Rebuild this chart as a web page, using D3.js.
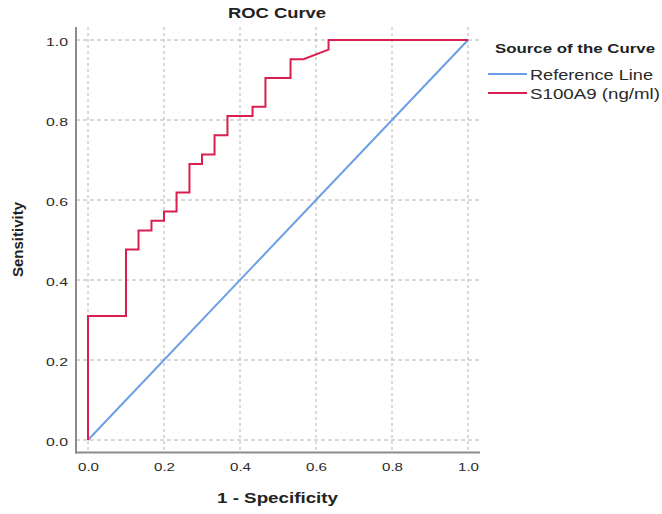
<!DOCTYPE html>
<html>
<head>
<meta charset="utf-8">
<script src="https://cdn.jsdelivr.net/npm/d3@7"></script>
<style>
  body { margin: 0; background: #fff; }
  text { font-family: "Liberation Sans", Arial, sans-serif; }
</style>
</head>
<body>
<div id="chart"></div>
<script>
// ROC points
const fpr = [0, 0, 0.1, 0.1, 0.133, 0.133, 0.167, 0.167, 0.2, 0.2, 0.233, 0.233, 0.267, 0.267, 0.3, 0.3,
             0.333, 0.333, 0.367, 0.367, 0.433, 0.433, 0.467, 0.467, 0.533, 0.533, 0.567, 0.633, 0.633, 1.0];
const tpr = [0, 0.31, 0.31, 0.476, 0.476, 0.524, 0.524, 0.548, 0.548, 0.571, 0.571, 0.619, 0.619, 0.69, 0.69, 0.714,
             0.714, 0.762, 0.762, 0.81, 0.81, 0.833, 0.833, 0.905, 0.905, 0.952, 0.952, 0.976, 1.0, 1.0];
const refX = [0, 1];
const refY = [0, 1];
const ticks = [0, 0.2, 0.4, 0.6, 0.8, 1.0];
const seriesNames = ["Reference Line", "S100A9 (ng/ml)"];
const seriesColors = ["#6a9fe6", "#d91f4f"];

const width = 662, height = 514;
const plot = {left: 76, right: 480, top: 27, bottom: 452.5};

const svg = d3.select('#chart').append('svg')
    .attr('width', width)
    .attr('height', height);

const x = d3.scaleLinear().domain([0, 1]).range([88, 468]);
const y = d3.scaleLinear().domain([0, 1]).range([440, 40]);

// grid
svg.append('g').selectAll('line')
    .data(ticks).enter().append('line')
    .attr('x1', plot.left).attr('x2', plot.right)
    .attr('y1', d => y(d)).attr('y2', d => y(d))
    .attr('stroke', '#b4b4b4').attr('stroke-width', 1)
    .attr('stroke-dasharray', '4,3');
svg.append('g').selectAll('line')
    .data(ticks).enter().append('line')
    .attr('y1', plot.top).attr('y2', plot.bottom)
    .attr('x1', d => x(d)).attr('x2', d => x(d))
    .attr('stroke', '#b4b4b4').attr('stroke-width', 1)
    .attr('stroke-dasharray', '3,3');

// axes (no tick marks, only labels)
const xAxis = svg.append('g')
    .attr('transform', 'translate(0,' + plot.bottom + ')')
    .call(d3.axisBottom(x).tickValues(ticks).tickFormat(d3.format('.1f')).tickSize(0).tickPadding(10));
xAxis.select('.domain').remove();
xAxis.selectAll('text')
    .attr('font-size', 11.5).attr('fill', '#2a2a2a')
    .attr('textLength', 21).attr('lengthAdjust', 'spacingAndGlyphs')
    .attr('font-family', '"Liberation Sans", Arial, sans-serif');

const yAxis = svg.append('g')
    .attr('transform', 'translate(' + plot.left + ',0)')
    .call(d3.axisLeft(y).tickValues(ticks).tickFormat(d3.format('.1f')).tickSize(0).tickPadding(8));
yAxis.select('.domain').remove();
yAxis.selectAll('text')
    .attr('font-size', 11.5).attr('fill', '#2a2a2a')
    .attr('dy', '0.45em')
    .attr('textLength', 22).attr('lengthAdjust', 'spacingAndGlyphs')
    .attr('font-family', '"Liberation Sans", Arial, sans-serif');

svg.append('line')
    .attr('x1', plot.left).attr('x2', plot.left)
    .attr('y1', plot.top).attr('y2', plot.bottom + 1)
    .attr('stroke', '#8c8c8c').attr('stroke-width', 2);
svg.append('line')
    .attr('x1', plot.left - 1).attr('x2', plot.right)
    .attr('y1', plot.bottom).attr('y2', plot.bottom)
    .attr('stroke', '#8c8c8c').attr('stroke-width', 2);

// lines
const line = d3.line().x(d => x(d[0])).y(d => y(d[1]));
svg.append('path')
    .datum(d3.zip(refX, refY))
    .attr('d', line)
    .attr('fill', 'none')
    .attr('stroke', seriesColors[0])
    .attr('stroke-width', 2);
svg.append('path')
    .datum(d3.zip(fpr, tpr))
    .attr('d', line)
    .attr('fill', 'none')
    .attr('stroke', seriesColors[1])
    .attr('stroke-width', 2);

// titles
svg.append('text').text('ROC Curve')
    .attr('x', 277).attr('y', 18)
    .attr('text-anchor', 'middle')
    .attr('font-size', 14).attr('font-weight', 'bold').attr('fill', '#222')
    .attr('textLength', 98).attr('lengthAdjust', 'spacingAndGlyphs');
svg.append('text').text('1 - Specificity')
    .attr('x', 277.5).attr('y', 503)
    .attr('text-anchor', 'middle')
    .attr('font-size', 15).attr('font-weight', 'bold').attr('fill', '#222')
    .attr('textLength', 121).attr('lengthAdjust', 'spacingAndGlyphs');
svg.append('text').text('Sensitivity')
    .attr('transform', 'translate(23,239.5) rotate(-90)')
    .attr('text-anchor', 'middle')
    .attr('font-size', 14).attr('font-weight', 'bold').attr('fill', '#222')
    .attr('textLength', 75).attr('lengthAdjust', 'spacingAndGlyphs');

// legend
const legend = svg.append('g');
legend.append('text').text('Source of the Curve')
    .attr('x', 495).attr('y', 53)
    .attr('font-size', 12.5).attr('font-weight', 'bold').attr('fill', '#222')
    .attr('textLength', 160).attr('lengthAdjust', 'spacingAndGlyphs');
const legendLens = [123, 130];
const items = legend.selectAll('g.item')
    .data(seriesNames).enter().append('g')
    .attr('class', 'item')
    .attr('transform', (d, i) => 'translate(0,' + (74 + i * 19) + ')');
items.append('line')
    .attr('x1', 488).attr('x2', 527)
    .attr('stroke', (d, i) => seriesColors[i])
    .attr('stroke-width', 1.8);
items.append('text').text(d => d)
    .attr('x', 530).attr('y', 6)
    .attr('font-size', 15.5).attr('fill', '#2a2a2a')
    .attr('textLength', (d, i) => legendLens[i]).attr('lengthAdjust', 'spacingAndGlyphs');
</script>
</body>
</html>
